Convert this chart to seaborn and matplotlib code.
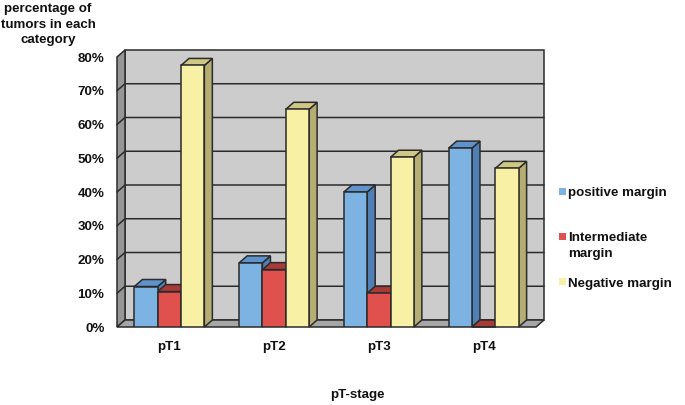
import numpy as np
import pandas as pd
from matplotlib import pyplot as plt
from matplotlib.patches import Polygon, Rectangle
import seaborn as sns

stages = ['pT1', 'pT2', 'pT3', 'pT4']
positive = [12, 19, 40, 53]
intermediate = [10.5, 17, 10, 0]
negative = [77.5, 64.5, 50.3, 47]
series_names = ['positive margin', 'Intermediate\nmargin', 'Negative margin']
y_ticks = [0, 10, 20, 30, 40, 50, 60, 70, 80]

front_colors = ['#7DB3E3', '#E0504C', '#F8F0A4']
side_colors = ['#4F7FB4', '#A83A38', '#B5AD72']
top_colors = ['#5F93CC', '#A83A38', '#CFC884']
line_col = '#2b2b2b'

sns.set_style('white')
plt.rcParams['font.family'] = ['Liberation Sans', 'DejaVu Sans']
plt.rcParams['font.weight'] = 'bold'
plt.rcParams['font.size'] = 9.65

df = pd.DataFrame({
    'stage': stages * 3,
    'margin': np.repeat(series_names, len(stages)),
    'value': positive + intermediate + negative,
})

fig = plt.figure(figsize=(6.85, 4.05), dpi=100)
ax = fig.add_axes([117 / 685, 78 / 405, 419 / 685, 270 / 405])

sns.barplot(data=df, x='stage', y='value', hue='margin', hue_order=series_names,
            palette=front_colors, saturation=1, width=0.668, gap=0, legend=False,
            edgecolor=line_col, linewidth=1.1, zorder=5, ax=ax)

ax.set_xlim(-0.5, 3.5)
ax.set_ylim(0, 80)
ax.set_xlabel('')
ax.set_ylabel('')
ax.set_yticks(y_ticks)
ax.set_yticklabels([str(t) + '%' for t in y_ticks])
ax.tick_params(axis='y', length=0, pad=9.0, labelcolor='#111111')
ax.tick_params(axis='x', length=0, pad=10.3, labelcolor='#111111')
sns.despine(ax=ax, left=True, bottom=True)

# depth of the fake 3d box, in data units
dx = 8 / 104.75
dy = 7 / 3.375
x0, x1 = ax.get_xlim()
y0, y1 = ax.get_ylim()


def poly(points, color, z):
    ax.add_patch(Polygon(points, closed=True, facecolor=color, edgecolor=line_col,
                         linewidth=1.1, zorder=z, clip_on=False))


# walls and floor
ax.add_patch(Rectangle((x0 + dx, y0 + dy), x1 - x0, y1 - y0, facecolor='#CCCCCC',
                       edgecolor=line_col, linewidth=1.1, zorder=0.5, clip_on=False))
poly([(x0, y0), (x0 + dx, y0 + dy), (x0 + dx, y1 + dy), (x0, y1)], '#969696', 0.6)
poly([(x0, y0), (x1, y0), (x1 + dx, y0 + dy), (x0 + dx, y0 + dy)], '#A6A6A6', 0.6)
for t in y_ticks[1:-1]:
    ax.plot([x0, x0 + dx, x1 + dx], [t, t + dy, t + dy], color=line_col, lw=1.1,
            zorder=1, clip_on=False)

# tops and sides, right to left so the taller bars cover their neighbours
n = len(stages)
bars = list(ax.patches)[:3 * n]
for i in reversed(range(len(bars))):
    b = bars[i]
    s = i // n
    l, r = b.get_x(), b.get_x() + b.get_width()
    h = b.get_height()
    poly([(r, 0), (r + dx, dy), (r + dx, h + dy), (r, h)], side_colors[s], 3)
    poly([(l, h), (r, h), (r + dx, h + dy), (l + dx, h + dy)], top_colors[s], 3.1)

# legend by hand, the spacing in the picture is not regular
legend_y = [192, 237, 282]
text_top = [187, 232, 278]
for name, col, py, ty in zip(series_names, front_colors, legend_y, text_top):
    fig.add_artist(Rectangle((559 / 685, 1 - (py + 3) / 405), 7 / 685, 7 / 405,
                             facecolor=col, edgecolor='none',
                             transform=fig.transFigure))
    fig.text(568 / 685, 1 - ty / 405, name, ha='left', va='top',
             color='#111111', linespacing=1.4)

fig.text(48 / 685, 1 - 3 / 405, 'percentage of\ntumors in each\ncategory', ha='center',
         va='top', color='#111111', linespacing=1.4)
fig.text(357.5 / 685, 1 - 395 / 405, 'pT-stage', ha='center', va='center', color='#111111')

plt.savefig('out.png', dpi=100)
